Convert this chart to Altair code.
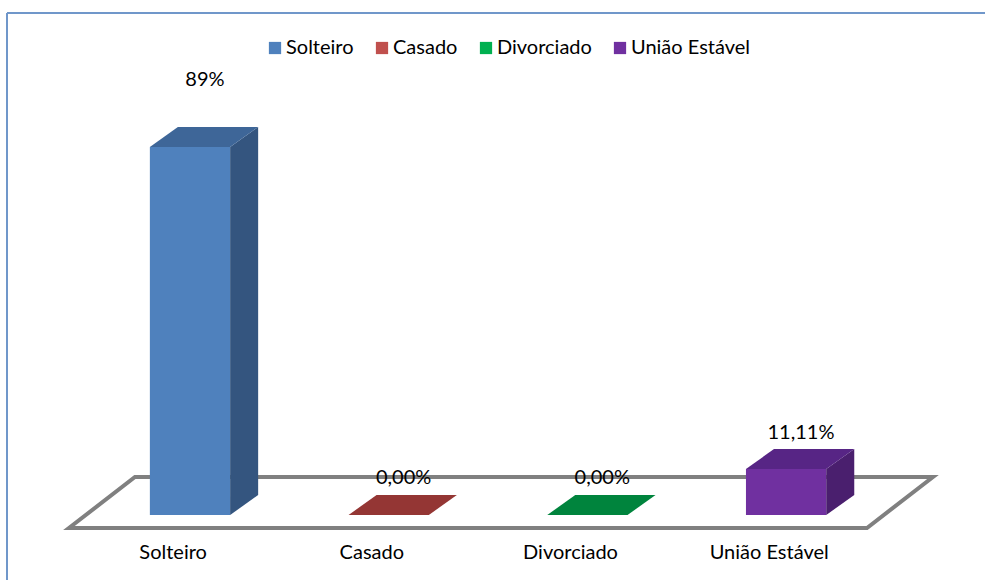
import altair as alt
import pandas as pd
import numpy as np

# ---- data ----
categories = ["Solteiro", "Casado", "Divorciado", "União Estável"]
values = [89.0, 0.0, 0.0, 11.11]
value_labels = ["89%", "0,00%", "0,00%", "11,11%"]

# ---- styles ----
legend_colors = ["#4F81BD", "#C0504D", "#00B050", "#7030A0"]
top_colors = ["#3E6698", "#943634", "#00843D", "#572585"]
side_colors = ["#34557F", "#7A2C2A", "#006B30", "#4A1F6E"]
FONT = "Lato"
FS = 20

# ---- geometry (x in category-index units, y in value units) ----
HALF = 0.202      # half bar width
DX = 0.141        # 3D depth, x
DY = 4.84         # 3D depth, y
X_DOMAIN = [-0.921, 4.001]
Y_DOMAIN = [-15.72, 121.4]
W, H = 978, 567

n = len(categories)
xs = alt.Scale(domain=X_DOMAIN, nice=False, zero=False)
ys = alt.Scale(domain=Y_DOMAIN, nice=False, zero=False)

bars = pd.DataFrame({"category": categories, "idx": range(n),
                     "value": values, "label": value_labels})
bars["x0"] = bars.idx - HALF
bars["x1"] = bars.idx + HALF
bars["y0"] = 0.0
bars["lx"] = bars.idx + 0.075
bars["ly"] = bars.value + DY + np.where(bars.value > 50, 11.4, 4.0)
bars["cx"] = bars.idx - 0.085

side_rows, top_rows = [], []
for c, i, v in zip(categories, range(n), values):
    side_rows.append({"category": c, "x": i + HALF, "lo": 0.0, "hi": v})
    side_rows.append({"category": c, "x": i + HALF + DX, "lo": DY, "hi": v + DY})
    top_rows.append({"category": c, "y": v, "xa": i - HALF, "xb": i + HALF})
    top_rows.append({"category": c, "y": v + DY, "xa": i - HALF + DX, "xb": i + HALF + DX})
side = pd.DataFrame(side_rows)
top = pd.DataFrame(top_rows)

FL, FR = -0.609, n - 1 + 0.407
FDX, FY, BY = 0.332, -3.14, 9.19
floor = pd.DataFrame({
    "o": range(6),
    "x": [FL, FR, FR + FDX, FL + FDX, FL, FR],
    "y": [FY, FY, BY, BY, FY, FY],
})

color_front = alt.Color("category:N", sort=categories,
                        scale=alt.Scale(domain=categories, range=legend_colors),
                        legend=alt.Legend(title=None, orient="none", direction="horizontal",
                                          legendX=258, legendY=25, padding=0,
                                          symbolType="square", symbolSize=150,
                                          symbolStrokeWidth=0, labelFont=FONT,
                                          labelFontSize=FS, labelColor="black",
                                          labelOffset=1, columnPadding=18))

floor_layer = alt.Chart(floor).mark_line(color="#808080", strokeWidth=4,
                                         strokeJoin="miter").encode(
    x=alt.X("x:Q", scale=xs, axis=None),
    y=alt.Y("y:Q", scale=ys, axis=None),
    order="o:Q")

front = alt.Chart(bars).mark_rect().encode(
    x=alt.X("x0:Q", scale=xs, axis=None), x2="x1:Q",
    y=alt.Y("y0:Q", scale=ys, axis=None), y2="value:Q",
    color=color_front)

side_layer = alt.Chart(side).mark_area().encode(
    x=alt.X("x:Q", scale=xs, axis=None),
    y=alt.Y("lo:Q", scale=ys, axis=None), y2="hi:Q",
    color=alt.Color("category:N", scale=alt.Scale(domain=categories, range=side_colors),
                    legend=None))

top_layer = alt.Chart(top).mark_area(orient="horizontal").encode(
    y=alt.Y("y:Q", scale=ys, axis=None),
    x=alt.X("xa:Q", scale=xs, axis=None), x2="xb:Q",
    color=alt.Color("category:N", scale=alt.Scale(domain=categories, range=top_colors),
                    legend=None))

value_text = alt.Chart(bars).mark_text(font=FONT, fontSize=FS, color="black",
                                       baseline="middle").encode(
    x=alt.X("lx:Q", scale=xs, axis=None),
    y=alt.Y("ly:Q", scale=ys, axis=None),
    text="label:N")

cat_text = alt.Chart(bars).mark_text(font=FONT, fontSize=FS, color="black",
                                     baseline="middle").encode(
    x=alt.X("cx:Q", scale=xs, axis=None),
    y=alt.value(540),
    text="category:N")

one = pd.DataFrame({"a": [0]})
border_top = alt.Chart(one).mark_rule(color="#7097CA", strokeWidth=2).encode(
    x=alt.value(0), x2=alt.value(W), y=alt.value(0))
border_left = alt.Chart(one).mark_rule(color="#7097CA", strokeWidth=2).encode(
    x=alt.value(0), y=alt.value(0), y2=alt.value(H))

chart = alt.layer(
    floor_layer, front, side_layer, top_layer, value_text, cat_text,
    border_top, border_left
).resolve_scale(color="independent").properties(
    width=W, height=H,
    autosize=alt.AutoSizeParams(type="none"),
    padding={"left": 7, "top": 13, "right": 0, "bottom": 0},
    background="white",
).configure_view(stroke=None)

chart.save("out.html", embed_options={"renderer": "svg", "actions": False})
